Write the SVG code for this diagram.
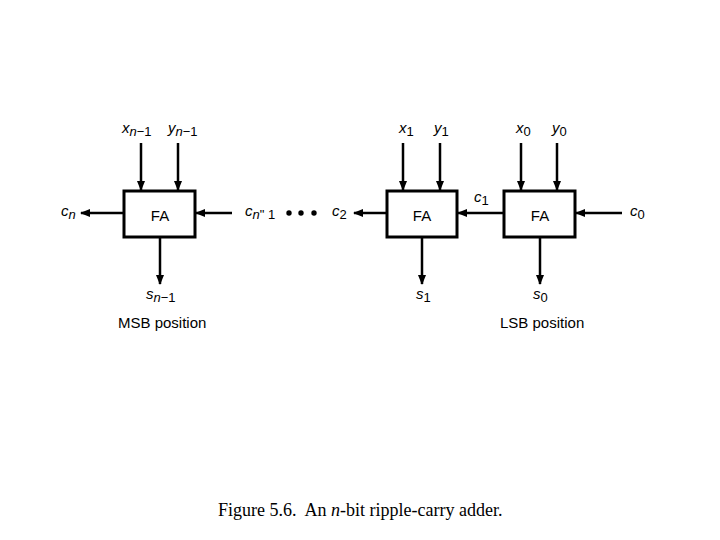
<svg xmlns="http://www.w3.org/2000/svg" width="720" height="540" viewBox="0 0 720 540">
<defs><marker id="ah" markerWidth="10" markerHeight="8" refX="9" refY="4" orient="auto" markerUnits="userSpaceOnUse"><path d="M0,0 L10,4 L0,8 Z" fill="#000"/></marker></defs>
<style>
.b{fill:#fff;stroke:#000;stroke-width:3}
.w{stroke:#000;stroke-width:2.5;fill:none;marker-end:url(#ah)}
text{font-family:"Liberation Sans",Arial,sans-serif;font-size:15px;fill:#000}
.i{font-style:italic}
.s{font-size:13px;font-style:normal}
.n{font-style:italic}
.cap{font-family:"Liberation Serif","Times New Roman",serif;font-size:18px}
</style>
<rect width="720" height="540" fill="#fff"/>
<g id="connectors">
<path class="w" d="M141,143V190"/><path class="w" d="M178,143V190"/>
<path class="w" d="M124,213H81"/><path class="w" d="M232,213H196"/>
<path class="w" d="M160,237V284"/>
<path class="w" d="M386,213H354"/>
<path class="w" d="M403,143V190"/><path class="w" d="M440,143V190"/>
<path class="w" d="M422,237V284"/>
<path class="w" d="M504,213H458"/>
<path class="w" d="M521,143V190"/><path class="w" d="M557,143V190"/>
<path class="w" d="M622,213H576"/>
<path class="w" d="M540,237V284"/>
</g>
<g id="fa_msb"><rect class="b" x="124" y="191" width="71" height="46"/><text x="160" y="221" text-anchor="middle">FA</text></g>
<g id="fa_1"><rect class="b" x="387" y="191" width="70" height="46"/><text x="422" y="221" text-anchor="middle">FA</text></g>
<g id="fa_0"><rect class="b" x="504" y="191" width="71" height="46"/><text x="540" y="221" text-anchor="middle">FA</text></g>
<g id="dots" fill="#000"><circle cx="289" cy="213" r="2.7"/><circle cx="301" cy="213" r="2.7"/><circle cx="314" cy="213" r="2.7"/></g>
<g id="labels">
<text x="122" y="133" class="i">x<tspan class="s n" dy="3">n</tspan><tspan class="s">−1</tspan></text>
<text x="168" y="133" class="i">y<tspan class="s n" dy="3">n</tspan><tspan class="s">−1</tspan></text>
<text x="61" y="216" class="i">c<tspan class="s n" dy="3">n</tspan></text>
<text x="245" y="216" class="i">c<tspan class="s n" dy="3">n</tspan><tspan class="s">" 1</tspan></text>
<text x="332" y="216" class="i">c<tspan class="s" dy="3">2</tspan></text>
<text x="399" y="133" class="i">x<tspan class="s" dy="3">1</tspan></text>
<text x="434" y="133" class="i">y<tspan class="s" dy="3">1</tspan></text>
<text x="474" y="202" class="i">c<tspan class="s" dy="3">1</tspan></text>
<text x="516" y="133" class="i">x<tspan class="s" dy="3">0</tspan></text>
<text x="552" y="133" class="i">y<tspan class="s" dy="3">0</tspan></text>
<text x="630" y="216" class="i">c<tspan class="s" dy="3">0</tspan></text>
<text x="146" y="299" class="i">s<tspan class="s n" dy="3">n</tspan><tspan class="s">−1</tspan></text>
<text x="416" y="299" class="i">s<tspan class="s" dy="3">1</tspan></text>
<text x="533" y="299" class="i">s<tspan class="s" dy="3">0</tspan></text>
<text x="118" y="328">MSB position</text>
<text x="500" y="328">LSB position</text>
<text x="218" y="516" class="cap" xml:space="preserve">Figure 5.6.  An <tspan font-style="italic">n</tspan>-bit ripple-carry adder.</text>
</g>
</svg>
